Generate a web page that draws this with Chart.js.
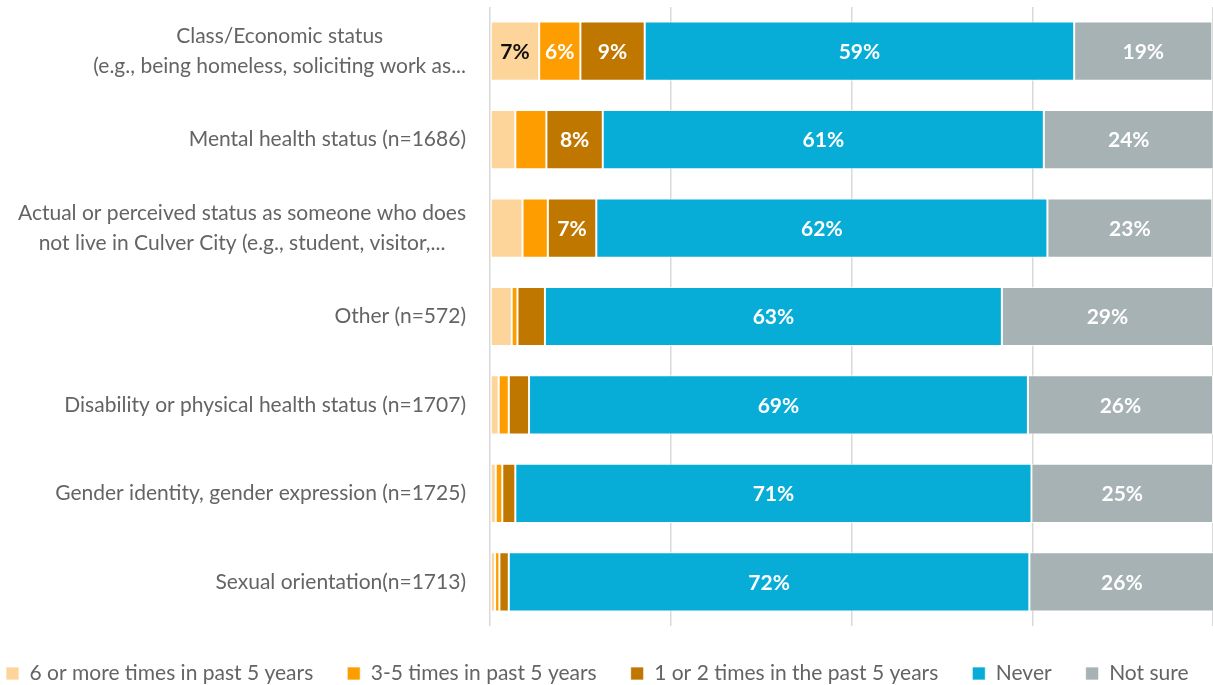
<!DOCTYPE html>
<html>
<head>
<meta charset="utf-8">
<script src="https://cdn.jsdelivr.net/npm/chart.js@4"></script>
<style>
  html, body { margin: 0; padding: 0; background: #fff; }
  #wrap { width: 1213px; height: 685px; position: relative; }
</style>
</head>
<body>
<div id="wrap"><canvas id="chart"></canvas></div>
<script>
// categories (multi-line labels as arrays)
const categories = [
  ['Class/Economic status', '(e.g., being homeless, soliciting work as...'],
  ['Mental health status (n=1686)'],
  ['Actual or perceived status as someone who does', 'not live in Culver City (e.g., student, visitor,...'],
  ['Other (n=572)'],
  ['Disability or physical health status (n=1707)'],
  ['Gender identity, gender expression (n=1725)'],
  ['Sexual orientation(n=1713)']
];

// series values (% of respondents)
const sixOrMore = [6.8, 3.5, 4.5, 3.0, 1.2, 0.8, 0.7];
const threeToFive = [5.7, 4.3, 3.5, 0.8, 1.4, 0.9, 0.6];
const oneOrTwo = [8.9, 7.8, 6.7, 3.8, 2.8, 1.8, 1.3];
const never = [59.4, 61.0, 62.4, 63.2, 69.0, 71.4, 72.0];
const notSure = [19.1, 23.5, 22.8, 29.2, 25.6, 25.1, 25.6];

const seriesNames = ['6 or more times in past 5 years', '3-5 times in past 5 years',
  '1 or 2 times in the past 5 years', 'Never', 'Not sure'];
const seriesColors = ['#FDD59A', '#FE9D00', '#C07700', '#07ADD7', '#A6B2B4'];
const labelColors = ['#111111', '#ffffff', '#ffffff', '#ffffff', '#ffffff'];

const FONT = 'Lato, "Noto Sans", sans-serif';
const TEXT = '#646464';

// value labels inside the segments
const segLabels = {
  id: 'segLabels',
  afterDatasetsDraw(chart) {
    const ctx = chart.ctx;
    ctx.save();
    ctx.font = 'bold 21px ' + FONT;
    ctx.textAlign = 'center';
    ctx.textBaseline = 'middle';
    chart.data.datasets.forEach((ds, di) => {
      const meta = chart.getDatasetMeta(di);
      meta.data.forEach((el, i) => {
        const v = ds.data[i];
        if (v < 5.5) return;
        ctx.fillStyle = labelColors[di];
        ctx.fillText(Math.round(v) + '%', (el.x + el.base) / 2, el.y + 1);
      });
    });
    ctx.restore();
  }
};

// category labels: right edge fixed, lines centred on each other
const catLabels = {
  id: 'catLabels',
  afterDraw(chart) {
    const ctx = chart.ctx;
    const y = chart.scales.y;
    const right = chart.chartArea.left - 24;
    const lh = 30;
    ctx.save();
    ctx.font = '21px ' + FONT;
    ctx.fillStyle = TEXT;
    ctx.textAlign = 'center';
    ctx.textBaseline = 'middle';
    categories.forEach((lines, i) => {
      const w = Math.max(...lines.map(l => ctx.measureText(l).width));
      const cx = right - w / 2;
      const cy = y.getPixelForValue(i);
      lines.forEach((l, k) => {
        ctx.fillText(l, cx, cy + (k - (lines.length - 1) / 2) * lh);
      });
    });
    ctx.restore();
  }
};

// legend: one row, fixed height, hugs the left edge but keeps wide gaps
const legendFix = {
  id: 'legendFix',
  beforeLayout(chart) {
    const lg = chart.legend;
    if (lg && !lg._fixed) {
      const fit = lg.fit.bind(lg);
      lg.fit = function () {
        const w = this.maxWidth;
        this.maxWidth = w + 200;
        fit();
        this.maxWidth = w;
        this.width = w;
        this.height = 59;
      };
      lg._fixed = true;
    }
  },
  afterLayout(chart) {
    const lg = chart.legend;
    lg.left -= 28;
    lg.right += 200;
    lg.top += 3;
    lg.bottom += 3;
  }
};

const series = [sixOrMore, threeToFive, oneOrTwo, never, notSure];

new Chart(document.getElementById('chart'), {
  type: 'bar',
  data: {
    labels: categories.map(c => c.join(' ')),
    datasets: series.map((d, i) => ({
      label: seriesNames[i],
      data: d,
      backgroundColor: seriesColors[i],
      borderColor: 'rgba(255,255,255,0.7)',
      borderWidth: 1,
      borderSkipped: false,
      barPercentage: 1,
      categoryPercentage: 0.67
    }))
  },
  options: {
    indexAxis: 'y',
    responsive: true,
    maintainAspectRatio: false,
    animation: false,
    layout: { padding: { top: 7, right: 0, left: 0, bottom: 0 } },
    scales: {
      x: {
        stacked: true,
        min: 0, max: 100,
        ticks: { display: false, stepSize: 25 },
        grid: { color: '#d9d9d9', lineWidth: 1.5, drawTicks: false },
        border: { display: false }
      },
      y: {
        stacked: true,
        ticks: { display: false },
        grid: { display: false },
        border: { display: false },
        afterFit(s) { s.width = 490; }
      }
    },
    plugins: {
      legend: {
        position: 'bottom',
        align: 'start',
        labels: {
          boxWidth: 13, boxHeight: 13,
          color: TEXT,
          font: { family: FONT, size: 21 },
          padding: 34
        }
      },
      tooltip: { enabled: false }
    }
  },
  plugins: [segLabels, catLabels, legendFix]
});
</script>
</body>
</html>
